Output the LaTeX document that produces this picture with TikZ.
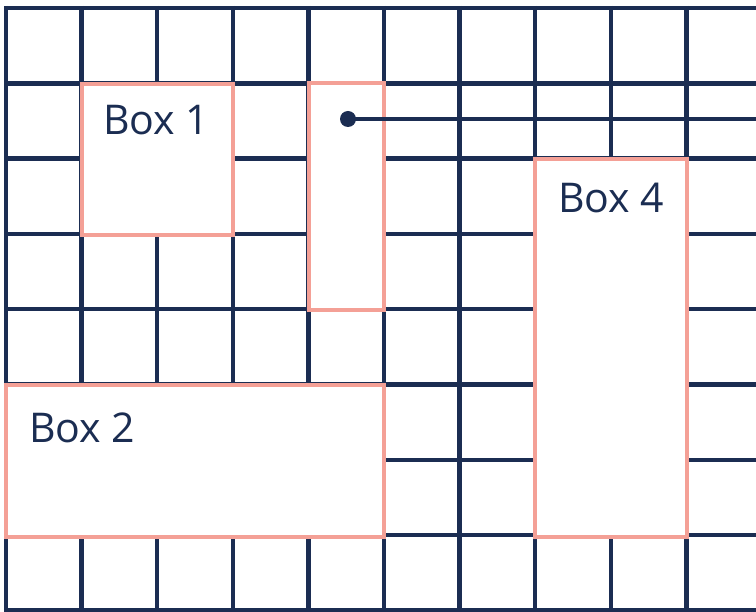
\documentclass[tikz,border=0pt]{standalone}
\usepackage{fontspec}
\setmainfont{Open Sans}
\definecolor{navy}{HTML}{1B2D52}
\definecolor{salmon}{HTML}{F4A096}
\begin{document}
\begin{tikzpicture}[x=1pt,y=-1pt,
  gridline/.style={draw=navy,line width=4.5pt},
  box/.style={draw=salmon,fill=white,line width=3.5pt,rectangle,inner sep=0pt,outer sep=0pt},
  lbl/.style={text=navy,font=\fontsize{41}{46}\selectfont,inner sep=0pt,anchor=base west},
  dotnode/.style={circle,fill=navy,inner sep=0pt,minimum size=16pt},
  connector/.style={draw=navy,line width=3.5pt}]
\useasboundingbox (0,0) rectangle (756,612);
\begin{scope}
\clip (0,0) rectangle (756,612);
\foreach \i in {0,...,10} {
  \draw[gridline] ({6+75.6*\i},6) -- ({6+75.6*\i},620);
}
\foreach \j in {0,...,8} {
  \draw[gridline] (4,{8+75.3*\j}) -- (770,{8+75.3*\j});
}
\end{scope}
\node[box,minimum width=151pt,minimum height=151pt] (box1) at (157.5,159.5) {};
\node[box,minimum width=75pt,minimum height=227pt] (box3) at (346.5,196.5) {};
\node[box,minimum width=152pt,minimum height=378pt] (box4) at (611,348) {};
\node[box,minimum width=378pt,minimum height=152pt] (box2) at (195,461) {};
\node[lbl] (t1) at (103,135) {Box 1};
\node[lbl] (t4) at (558,213) {Box 4};
\node[lbl] (t2) at (29,443) {Box 2};
\node[dotnode] (dot) at (348,119) {};
\coordinate (lineend) at (757,119);
\draw[connector] (dot.center) -- (lineend);
\end{tikzpicture}
\end{document}
